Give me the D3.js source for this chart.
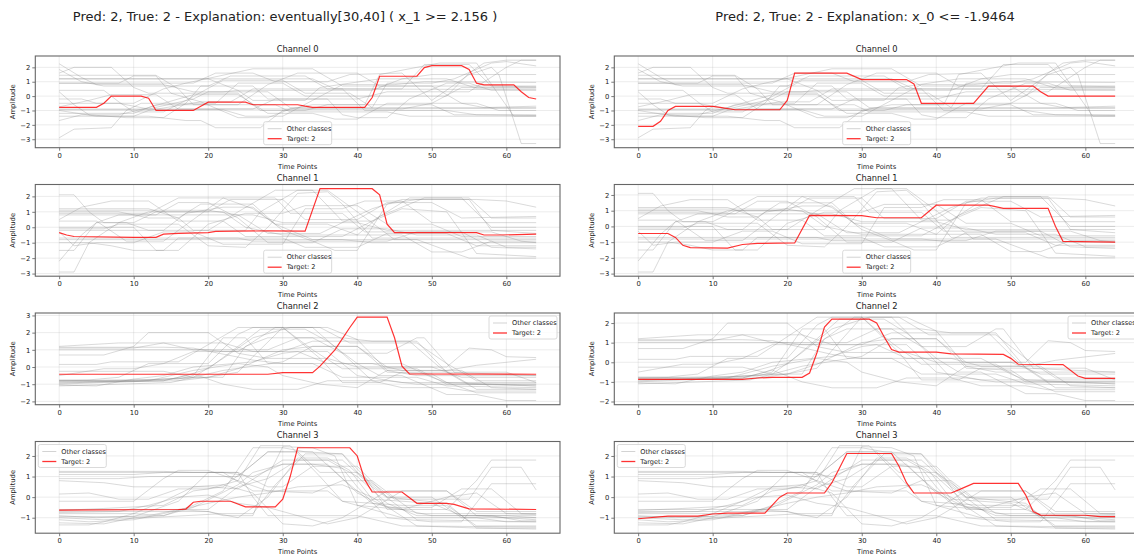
<!DOCTYPE html>
<html>
<head>
<meta charset="utf-8">
<script src="https://cdn.jsdelivr.net/npm/d3@7"></script>
<style>
  body { margin: 0; background: #fff; }
  svg { display: block; }
  text { font-family: "DejaVu Sans", sans-serif; fill: #222; }
</style>
</head>
<body>
<div id="chart"></div>
<script>
const width = 1134;
const height = 557;

// ---- data ----
const panelTitles = [
    "Pred: 2, True: 2 - Explanation: eventually[30,40] ( x_1 >= 2.156 )",
    "Pred: 2, True: 2 - Explanation: x_0 <= -1.9464"
];
const channelNames = ["Channel 0", "Channel 1", "Channel 2", "Channel 3"];
const xTicks = [0, 10, 20, 30, 40, 50, 60];
const legendLabels = ["Other classes", "Target: 2"];

// samples of the other classes, as [time, amplitude] breakpoints
const otherCh0 = [
    [[0,2.25],[3,1.3],[5,0.8],[14,0.8],[18,0.3],[22,0.3],[24,0.4],[42,0.4],[46,1.2],[50,1.5],[64,1.5]],
    [[0,1.85],[3,1.0],[6,0.7],[20,0.7],[23,1.4],[33,1.4],[36,0.5],[64,0.45]],
    [[0,1.6],[2,2.0],[7,2.0],[10,0.6],[12,0.2],[24,0.2],[27,-1.0],[33,-1.0],[36,-0.6],[50,-0.6],[53,-1.3],[64,-1.3]],
    [[0,1.45],[13,1.45],[16,0.5],[18,-0.6],[29,-0.6],[31,-1.1],[44,-1.1],[47,-1.4],[64,-1.4]],
    [[0,1.2],[34,1.2],[37,0.5],[46,0.5],[49,2.2],[55,2.2],[58,0.7],[64,0.65]],
    [[0,1.2],[20,1.2],[24,0.4],[26,-0.3],[33,-0.3],[35,0.6],[43,1.2],[52,1.2],[56,0.55],[64,0.55]],
    [[0,0.9],[8,0.9],[10,1.4],[13,1.4],[15,0.2],[19,-0.4],[24,-1.5],[28,-1.5],[31,-0.9],[64,-0.85]],
    [[0,0.4],[6,0.4],[8,-0.4],[10,-1.1],[14,-1.1],[17,-0.3],[22,1.1],[30,1.1],[33,0.2],[39,0.2],[42,-0.8],[64,-0.8]],
    [[0,0.3],[2,-0.6],[4,-1.3],[9,-1.5],[14,-1.5],[17,-0.5],[19,0.7],[26,0.7],[28,-0.2],[40,-0.2],[44,0.3],[55,0.3],[60,2.0],[62,2.5],[64,2.5]],
    [[0,-0.2],[3,-0.2],[5,-0.5],[10,-0.5],[14,0.5],[17,0.9],[26,1.9],[34,1.9],[38,0.7],[50,0.7],[54,-0.5],[57,-0.8],[64,-0.7]],
    [[0,-0.5],[8,-0.5],[12,-0.9],[18,-0.2],[20,0.3],[28,0.3],[31,-0.8],[42,-0.8],[44,0.9],[50,0.9],[53,1.2],[58,2.3],[60,2.4],[64,2.1]],
    [[0,-0.75],[4,-0.3],[7,0.1],[13,0.1],[16,-0.9],[26,-0.9],[29,-0.2],[36,-0.2],[38,-1.3],[40,-1.5],[44,-1.5],[47,-0.2],[52,0.9],[55,0.9],[58,0.4],[64,0.4]],
    [[0,-0.9],[46,-0.9],[50,-0.5],[56,-0.5],[59,-1.0],[64,-1.0]],
    [[0,-0.95],[22,-0.95],[25,-1.4],[30,-1.4],[34,-0.3],[38,0.8],[45,0.8],[49,1.0],[64,0.95]],
    [[0,-1.0],[5,-1.4],[12,-1.4],[17,-1.7],[19,-1.7],[21,-2.2],[27,-2.2],[30,-1.0],[34,-0.6],[41,-0.6],[43,1.5],[48,2.0],[51,2.3],[56,2.3],[61,-1.4],[64,-1.4]],
    [[0,-1.2],[10,-1.2],[13,-0.6],[24,-0.6],[28,0.8],[32,1.6],[40,1.6],[43,0.7],[64,0.7]],
    [[0,-1.4],[10,-1.4],[12,-1.0],[19,-0.4],[23,-0.4],[26,0.5],[38,0.5],[41,-1.0],[52,-1.0],[56,-1.3],[64,-1.35]],
    [[0,-1.7],[3,-1.3],[8,-1.3],[12,-0.8],[18,0.1],[24,0.1],[28,-1.2],[34,-1.2],[37,-1.6],[40,-1.6],[44,-0.5],[50,-0.5],[54,0.6],[64,0.6]],
    [[0,-2.9],[2,-2.3],[7,-2.2],[9,-1.0],[11,-0.5],[21,-0.5],[24,0.9],[30,0.9],[33,0.0],[52,0.0],[55,1.6],[57,2.3],[60,2.5],[64,2.5]],
    [[0,0.9],[18,0.9],[21,1.6],[26,1.6],[29,1.0],[36,1.0],[39,1.5],[46,1.6],[50,-0.3],[55,1.5],[58,2.0],[59,1.5],[62,-3.3],[64,-3.3]]
];
const otherCh1 = [
    [[0,2.1],[2,2.1],[4,1.0],[6,0.3],[10,0.3],[13,1.0],[20,1.0],[23,1.8],[30,1.8],[33,0.5],[40,0.5],[44,1.6],[50,1.6],[54,0.6],[64,0.7]],
    [[0,1.2],[12,1.2],[16,0.6],[18,-0.2],[25,-0.2],[27,1.0],[32,2.4],[36,2.4],[40,1.0],[45,-0.8],[64,-0.8]],
    [[0,1.1],[20,1.1],[24,0.8],[28,-0.4],[35,-0.4],[38,0.3],[42,1.2],[46,1.8],[56,1.8],[60,1.7],[64,1.3]],
    [[0,1.0],[8,1.0],[12,0.6],[16,0.6],[19,1.5],[26,1.5],[29,0.2],[34,-0.8],[48,-0.8],[52,-1.5],[55,-2.0],[64,-2.0]],
    [[0,0.8],[26,0.8],[30,0.3],[40,0.3],[44,-0.2],[64,-0.2]],
    [[0,0.5],[3,1.3],[7,1.7],[12,1.7],[16,0.4],[22,0.4],[25,-0.6],[38,-0.6],[42,0.4],[47,1.9],[54,1.9],[58,0.0],[64,0.0]],
    [[0,0.4],[5,0.4],[9,-0.9],[14,-0.9],[18,0.5],[22,1.9],[29,1.9],[31,0.9],[38,0.9],[41,-0.3],[54,-0.3],[58,-1.3],[64,-1.4]],
    [[0,0.0],[10,0.0],[13,-1.5],[16,-1.5],[20,0.2],[25,0.9],[30,0.9],[33,1.4],[40,1.4],[44,0.2],[50,0.2],[54,-0.6],[64,-0.6]],
    [[0,-0.1],[6,-0.1],[8,0.2],[16,0.2],[20,-1.2],[25,-1.3],[28,0.0],[32,2.2],[36,2.3],[38,1.5],[42,-0.7],[64,-0.7]],
    [[0,-0.2],[14,-0.2],[17,0.9],[22,1.3],[26,1.3],[30,-0.2],[34,-0.9],[44,-0.9],[48,-0.3],[58,-0.3],[62,-0.9],[64,-1.0]],
    [[0,-0.3],[2,-1.2],[5,-1.0],[10,-1.0],[14,-0.3],[18,-0.3],[22,-1.1],[30,-1.1],[33,1.2],[38,1.2],[41,1.7],[46,1.7],[50,0.3],[64,0.3]],
    [[0,-0.7],[30,-0.7],[33,-1.3],[40,-1.3],[44,-0.4],[52,-0.4],[56,-1.2],[64,-1.2]],
    [[0,-0.8],[38,-0.8],[42,-1.0],[64,-1.0]],
    [[0,-1.0],[4,-1.0],[8,0.3],[12,1.0],[22,1.0],[25,0.0],[30,-0.5],[40,-0.5],[43,0.7],[49,1.9],[55,1.9],[58,0.6],[64,0.6]],
    [[0,-1.5],[2,-1.5],[5,0.3],[8,0.8],[13,0.8],[16,1.6],[20,1.6],[24,0.6],[28,-1.0],[34,-1.0],[38,-0.1],[44,-0.1],[48,-0.5],[56,-0.5],[60,-1.3],[64,-1.3]],
    [[0,-2.2],[3,-0.5],[5,0.3],[9,0.3],[12,-0.2],[20,-0.2],[24,1.0],[29,2.4],[34,2.4],[38,0.4],[42,0.4],[46,1.2],[52,1.0],[56,-1.7],[60,-1.8],[64,-1.9]],
    [[0,-2.9],[2,-2.9],[4,-1.0],[7,-1.2],[10,-1.5],[14,-1.5],[16,-0.7],[24,-0.7],[26,-0.9],[34,-0.9],[37,-1.5],[40,-1.5],[44,1.5],[48,1.8],[55,1.8],[58,-0.2],[64,-0.4]],
    [[0,0.9],[12,0.9],[16,1.9],[22,1.9],[26,1.2],[29,0.2],[36,0.2],[40,-0.5],[46,-0.5],[50,-1.6],[54,-1.6],[58,-0.9],[64,-0.9]]
];
const otherCh2 = [
    [[0,1.2],[8,1.4],[14,1.4],[18,1.0],[28,1.0],[32,1.7],[38,1.7],[42,1.5],[48,1.5],[52,-0.3],[64,-0.5]],
    [[0,1.1],[10,1.1],[14,1.4],[22,1.4],[26,0.9],[30,0.9],[34,1.5],[47,1.5],[51,0.0],[55,-1.0],[64,-1.1]],
    [[0,1.0],[20,1.0],[22,0.9],[36,0.9],[40,-0.5],[46,-0.9],[64,-0.9]],
    [[0,0.7],[6,0.7],[10,1.2],[12,2.0],[20,2.0],[24,0.8],[28,0.5],[36,0.5],[40,0.0],[50,0.0],[54,-0.6],[64,-0.6]],
    [[0,0.15],[5,0.15],[7,0.3],[16,0.3],[20,1.3],[24,2.3],[30,2.3],[35,0.5],[38,-0.9],[43,-0.9],[46,-0.3],[52,-0.3],[56,-1.3],[64,-1.3]],
    [[0,-0.25],[14,-0.25],[18,-0.6],[22,-0.6],[25,1.2],[28,1.7],[34,1.7],[38,0.8],[44,0.8],[48,1.7],[49,1.7],[53,-0.3],[60,-0.3],[64,-0.9]],
    [[0,-0.5],[6,-0.1],[10,-0.1],[14,0.2],[18,0.9],[24,0.9],[29,2.3],[36,2.3],[40,1.6],[44,-0.2],[48,-0.5],[64,-0.5]],
    [[0,-0.8],[14,-0.8],[17,-0.5],[20,-0.1],[24,1.2],[27,2.2],[33,2.2],[36,1.5],[40,0.2],[46,0.2],[50,-0.6],[56,-1.5],[64,-1.5]],
    [[0,-0.8],[16,-0.7],[18,-0.5],[20,0.6],[22,1.7],[25,1.7],[28,0.2],[34,0.2],[38,-0.6],[48,-0.6],[52,-1.1],[64,-1.2]],
    [[0,-0.85],[10,-0.85],[14,-0.7],[18,-0.6],[22,-0.2],[30,0.3],[34,1.2],[40,1.2],[44,0.0],[52,0.0],[55,1.1],[58,1.0],[60,0.6],[64,0.55]],
    [[0,-0.9],[16,-0.8],[20,-0.6],[24,-0.3],[26,0.6],[30,2.3],[35,2.3],[39,1.4],[48,1.4],[52,0.2],[56,-0.8],[64,-0.8]],
    [[0,-1.0],[6,-0.9],[14,-0.8],[18,-0.4],[22,-1.0],[26,-1.3],[32,-1.3],[36,-0.8],[44,-0.8],[48,-1.0],[64,-1.0]],
    [[0,-1.05],[5,-1.1],[10,-0.7],[14,-0.5],[18,0.0],[26,0.3],[30,0.8],[32,0.9],[36,0.2],[40,0.2],[43,-0.5],[46,-0.5],[52,-1.6],[56,-1.6],[60,-1.95],[64,-1.95]],
    [[0,-1.1],[8,-1.0],[15,-0.9],[18,-0.6],[22,0.5],[26,1.7],[31,2.3],[34,2.3],[38,0.8],[42,-0.8],[46,-1.2],[52,-1.2],[55,-1.4],[64,-1.4]],
    [[0,-0.8],[12,-0.8],[18,-0.2],[24,0.2],[28,0.0],[30,-0.5],[35,-1.0],[40,-1.2],[44,-0.2],[52,-0.2],[56,0.1],[64,0.45]],
    [[0,-0.95],[20,-0.6],[24,-0.1],[30,1.0],[34,1.2],[40,1.2],[42,0.5],[44,-0.3],[50,-0.4],[52,-0.9],[64,-1.1]],
    [[0,1.15],[14,1.15],[18,1.1],[26,0.4],[30,0.2],[42,0.2],[46,-0.2],[54,-0.2],[58,-1.2],[64,-1.3]],
    [[0,-0.75],[4,-0.75],[8,-0.6],[12,0.2],[20,0.2],[24,1.9],[26,2.3],[30,2.3],[34,1.0],[38,-0.1],[48,-0.1],[52,-1.0],[64,-1.0]]
];
const otherCh3 = [
    [[0,1.25],[14,1.25],[18,1.2],[24,1.2],[28,0.5],[30,0.5],[34,1.5],[40,1.5],[44,0.0],[50,0.0],[54,-1.0],[64,-1.0]],
    [[0,1.2],[22,1.2],[26,0.3],[36,0.3],[38,-0.2],[46,-1.0],[56,-1.0],[60,-1.2],[64,-1.2]],
    [[0,1.1],[10,1.1],[14,1.2],[22,1.2],[26,1.0],[30,1.6],[36,1.6],[40,0.2],[44,-0.5],[50,-0.5],[54,0.4],[58,0.4],[62,-0.8],[64,-0.8]],
    [[0,0.9],[8,0.9],[12,1.0],[24,1.0],[28,2.2],[32,2.2],[35,1.2],[40,1.2],[45,-0.1],[55,-0.1],[58,1.45],[62,1.45],[64,0.35]],
    [[0,0.8],[6,0.7],[10,0.5],[20,0.5],[24,0.4],[30,1.8],[36,1.8],[40,1.0],[44,-0.3],[48,-0.9],[58,-0.9],[62,-1.15],[64,-1.15]],
    [[0,0.15],[4,0.2],[8,-0.1],[12,-0.1],[16,0.4],[20,0.4],[24,0.8],[27,2.5],[31,2.5],[35,1.0],[38,-0.2],[46,-0.4],[52,-0.4],[56,-1.4],[64,-1.4]],
    [[0,-0.2],[10,-0.2],[14,0.9],[16,1.3],[20,1.3],[24,0.8],[28,0.3],[34,0.2],[38,0.8],[42,0.8],[46,-0.3],[48,-0.8],[64,-0.8]],
    [[0,-0.65],[6,-0.55],[14,-0.4],[18,0.3],[22,0.5],[26,1.6],[28,2.2],[34,2.2],[38,0.9],[42,-0.3],[50,-0.9],[60,-0.9],[64,-1.0]],
    [[0,-0.75],[8,-0.7],[12,-0.4],[16,0.0],[20,0.1],[24,-0.3],[28,-0.5],[32,-0.9],[36,-1.3],[40,-1.0],[46,0.3],[52,0.3],[56,-0.7],[64,-0.7]],
    [[0,-0.8],[10,-0.8],[14,-0.9],[18,-0.4],[22,0.3],[26,2.4],[30,2.4],[33,2.2],[38,2.1],[40,1.2],[44,0.0],[52,-0.3],[56,-1.5],[64,-1.55]],
    [[0,-0.9],[5,-1.0],[12,-0.9],[16,-0.6],[20,-0.6],[24,0.5],[28,0.9],[32,1.8],[38,1.8],[42,0.5],[48,-1.1],[64,-1.2]],
    [[0,-1.0],[6,-1.1],[12,-1.0],[17,-0.9],[22,-0.8],[26,-0.8],[29,0.6],[33,2.1],[38,2.1],[41,1.0],[44,-0.6],[52,-0.6],[56,0.8],[58,1.8],[64,1.8]],
    [[0,-1.1],[4,-1.2],[10,-1.1],[14,-0.8],[20,-0.3],[24,0.0],[28,0.2],[32,0.5],[38,0.6],[42,0.0],[48,-1.4],[56,-1.5],[64,-1.5]],
    [[0,-1.25],[6,-1.3],[10,-1.0],[14,-0.9],[18,-0.5],[24,0.6],[26,1.2],[30,1.6],[34,1.6],[38,1.4],[40,0.5],[44,-1.0],[50,-1.2],[54,-1.2],[58,0.65],[64,0.65]],
    [[0,-1.35],[4,-1.35],[6,-1.2],[10,-0.8],[14,-0.2],[18,0.5],[22,0.6],[26,0.2],[30,-1.3],[34,-1.4],[38,-1.0],[44,0.3],[52,0.3],[56,-0.9],[64,-1.1]],
    [[0,-0.6],[16,-0.6],[20,-0.7],[24,-1.0],[28,0.0],[32,1.9],[36,1.9],[39,1.3],[42,-0.1],[50,-0.3],[54,-0.9],[64,-0.9]],
    [[0,-0.95],[10,-0.95],[16,-0.2],[20,1.2],[24,1.2],[26,0.0],[28,-0.9],[40,-0.9],[46,-1.4],[64,-1.45]],
    [[0,-0.7],[20,-0.7],[22,-0.9],[26,-0.9],[28,1.0],[30,2.45],[34,2.4],[37,2.0],[40,-0.4],[46,-0.6],[52,0.0],[56,0.2],[60,-0.8],[64,-0.85]]
];

// target sample (class 2) for the left and right explanation
const targetLeftCh0 = [[0,-0.78],[5,-0.78],[6,-0.5],[7,0],[11,0],[12,-0.15],[13,-1.0],[18,-1.0],[19,-0.7],[20,-0.42],[25,-0.42],[26,-0.6],[32,-0.6],[33,-0.7],[34,-0.78],[41,-0.78],[42,-0.1],[43,1.38],[48,1.38],[49,1.98],[50,2.12],[54,2.12],[55,1.85],[56,0.9],[57,0.78],[61,0.78],[62,0.3],[63,-0.1],[64,-0.2]];
const targetLeftCh1 = [[0,-0.35],[1,-0.5],[2,-0.6],[10,-0.65],[13,-0.65],[14,-0.45],[16,-0.4],[20,-0.35],[21,-0.27],[28,-0.23],[33,-0.25],[35,2.5],[42,2.5],[43,2.1],[44,0.2],[45,-0.35],[56,-0.35],[57,-0.5],[59,-0.5],[64,-0.45]];
const targetLeftCh2 = [[0,-0.42],[28,-0.42],[30,-0.33],[34,-0.33],[35,0.05],[37,1.0],[39,2.3],[40,2.9],[44,2.9],[45,1.7],[46,0.05],[47,-0.4],[64,-0.42]];
const targetLeftCh3 = [[0,-0.63],[16,-0.6],[17,-0.58],[18,-0.25],[19,-0.2],[23,-0.2],[25,-0.47],[29,-0.47],[30,-0.1],[31,1.0],[32,2.4],[39,2.4],[40,2.0],[41,0.85],[42,0.25],[46,0.25],[48,-0.3],[52,-0.3],[53,-0.35],[55,-0.57],[64,-0.6]];
const targetRightCh0 = [[0,-2.1],[2,-2.1],[3,-1.75],[4,-1.0],[5,-0.72],[10,-0.72],[11,-0.78],[13,-0.95],[19,-0.95],[20,-0.3],[21,1.6],[28,1.6],[30,1.15],[36,1.15],[37,0.85],[38,-0.5],[45,-0.5],[47,0.7],[53,0.7],[54,0.3],[55,0],[64,0]];
const targetRightCh1 = [[0,-0.45],[4,-0.45],[5,-0.7],[6,-1.2],[7,-1.35],[12,-1.38],[14,-1.15],[16,-1.08],[21,-1.05],[23,0.7],[30,0.68],[32,0.55],[38,0.55],[40,1.35],[47,1.35],[49,1.15],[55,1.15],[56,0.0],[57,-0.95],[64,-1.0]];
const targetRightCh2 = [[0,-0.87],[14,-0.87],[16,-0.8],[18,-0.77],[22,-0.77],[23,-0.55],[24,0.5],[25,1.8],[26,2.2],[31,2.2],[32,2.0],[33,1.3],[34,0.65],[35,0.52],[40,0.52],[42,0.43],[49,0.4],[50,0.2],[51,-0.1],[57,-0.12],[59,-0.7],[60,-0.82],[64,-0.82]];
const targetRightCh3 = [[0,-1.05],[4,-0.92],[8,-0.92],[10,-0.82],[12,-0.78],[17,-0.78],[19,0.0],[20,0.2],[25,0.2],[26,0.7],[27,1.4],[28,2.12],[34,2.12],[35,1.5],[36,0.7],[37,0.2],[42,0.2],[43,0.35],[45,0.67],[51,0.67],[52,0.1],[53,-0.7],[54,-0.87],[60,-0.88],[62,-0.95],[64,-0.95]];

const otherClasses = [otherCh0, otherCh1, otherCh2, otherCh3];
const targets = [
    [targetLeftCh0, targetLeftCh1, targetLeftCh2, targetLeftCh3],
    [targetRightCh0, targetRightCh1, targetRightCh2, targetRightCh3]
];

// ---- layout ----
const colLeft = [35.3, 614.3];
const titleX = [285, 865];
const rowTop = [56, 184.5, 313, 441.5];
const plotW = 524.7;
const plotH = 91.7;
const legendPos = ["lower center", "lower center", "upper right", "upper left"];

const svg = d3.select("#chart")
    .append("svg")
    .attr("width", width)
    .attr("height", height);

const x = d3.scaleLinear().domain([-3.2, 67.2]).range([0, plotW]);

const line = d3.line();

function drawLegend(g, where) {
    const lw = 68, lh = 23;
    let lx = 3, ly = 3;
    if (where === "lower center") { lx = plotW / 2 - lw / 2; ly = plotH - lh - 3; }
    if (where === "upper right") { lx = plotW - lw - 3; }
    const lg = g.append("g").attr("transform", `translate(${lx},${ly})`);
    lg.append("rect")
        .attr("width", lw).attr("height", lh).attr("rx", 2)
        .attr("fill", "white").attr("fill-opacity", 0.8)
        .attr("stroke", "#d0d0d0").attr("stroke-width", 0.8);
    const styles = [
        { color: "gray", opacity: 0.35, w: 1 },
        { color: "red", opacity: 0.8, w: 1.3 }
    ];
    legendLabels.forEach((label, i) => {
        const cy = 7 + i * 10;
        lg.append("line")
            .attr("x1", 4).attr("x2", 18).attr("y1", cy).attr("y2", cy)
            .attr("stroke", styles[i].color)
            .attr("stroke-opacity", styles[i].opacity)
            .attr("stroke-width", styles[i].w);
        lg.append("text")
            .attr("x", 23).attr("y", cy + 2.3)
            .attr("font-size", "6.6px")
            .text(label);
    });
}

for (let c = 0; c < 2; c++) {
    svg.append("text")
        .attr("x", titleX[c])
        .attr("y", 21)
        .attr("text-anchor", "middle")
        .attr("font-size", "13px")
        .text(panelTitles[c]);

    for (let r = 0; r < 4; r++) {
        const others = otherClasses[r];
        const target = targets[c][r];
        const vals = others.flat().map(d => d[1]).concat(target.map(d => d[1]));
        const [lo, hi] = d3.extent(vals);
        const pad = (hi - lo) * 0.05;
        const y = d3.scaleLinear().domain([lo - pad, hi + pad]).range([plotH, 0]);
        const yTicks = d3.range(Math.ceil(lo - pad), Math.floor(hi + pad) + 1);
        line.x(d => x(d[0])).y(d => y(d[1]));

        const g = svg.append("g")
            .attr("transform", `translate(${colLeft[c]},${rowTop[r]})`);

        // grid
        g.selectAll(".gx").data(xTicks).join("line")
            .attr("x1", d => x(d)).attr("x2", d => x(d))
            .attr("y1", 0).attr("y2", plotH)
            .attr("stroke", "#b0b0b0").attr("stroke-opacity", 0.3).attr("stroke-width", 0.8);
        g.selectAll(".gy").data(yTicks).join("line")
            .attr("x1", 0).attr("x2", plotW)
            .attr("y1", d => y(d)).attr("y2", d => y(d))
            .attr("stroke", "#b0b0b0").attr("stroke-opacity", 0.3).attr("stroke-width", 0.8);

        // other classes
        g.append("g").selectAll("path").data(others).join("path")
            .attr("d", line)
            .attr("fill", "none")
            .attr("stroke", "gray")
            .attr("stroke-opacity", 0.35)
            .attr("stroke-width", 0.85);

        // target
        g.append("path")
            .attr("d", line(target))
            .attr("fill", "none")
            .attr("stroke", "red")
            .attr("stroke-opacity", 0.8)
            .attr("stroke-width", 1.2);

        // axes
        const ax = g.append("g")
            .attr("transform", `translate(0,${plotH})`)
            .call(d3.axisBottom(x).tickValues(xTicks).tickSize(3).tickPadding(2).tickFormat(d3.format("d")));
        const ay = g.append("g")
            .call(d3.axisLeft(y).tickValues(yTicks).tickSize(3).tickPadding(2).tickFormat(d3.format("d")));
        [ax, ay].forEach(a => {
            a.select(".domain").remove();
            a.selectAll(".tick line").attr("stroke", "#444").attr("stroke-width", 0.7);
            a.selectAll(".tick text").attr("font-size", "6.8px").attr("fill", "#222")
                .attr("font-family", "DejaVu Sans, sans-serif");
        });

        // frame
        g.append("rect")
            .attr("width", plotW).attr("height", plotH)
            .attr("fill", "none")
            .attr("stroke", "#666").attr("stroke-width", 1.1);

        // labels
        g.append("text")
            .attr("x", plotW / 2).attr("y", -4)
            .attr("text-anchor", "middle")
            .attr("font-size", "8.3px")
            .text(channelNames[r]);
        g.append("text")
            .attr("x", plotW / 2).attr("y", plotH + 21)
            .attr("text-anchor", "middle")
            .attr("font-size", "6.8px")
            .text("Time Points");
        g.append("text")
            .attr("transform", `translate(-20,${plotH / 2}) rotate(-90)`)
            .attr("text-anchor", "middle")
            .attr("font-size", "6.8px")
            .text("Amplitude");

        drawLegend(g, legendPos[r]);
    }
}
</script>
</body>
</html>
